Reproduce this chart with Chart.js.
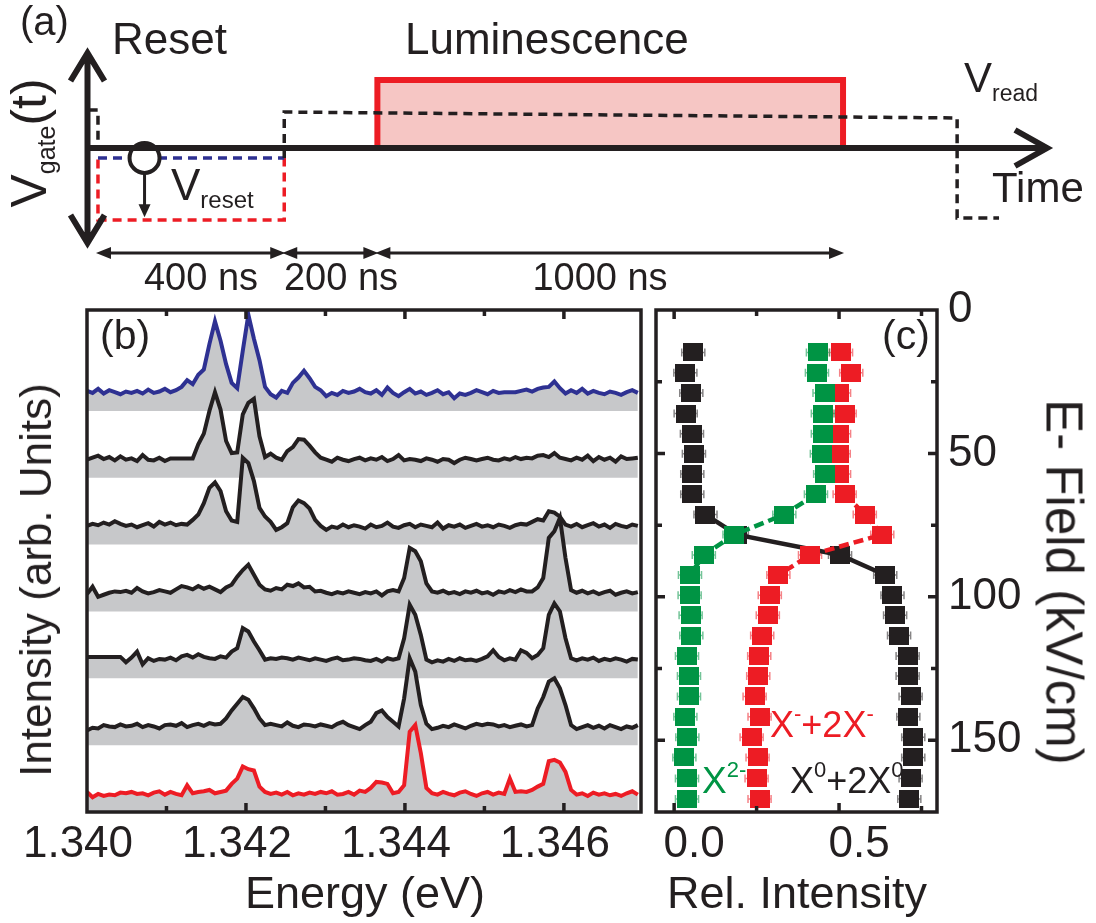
<!DOCTYPE html>
<html>
<head>
<meta charset="utf-8">
<script src="https://cdn.jsdelivr.net/npm/chart.js@4.4.1/dist/chart.umd.min.js"></script>
<style>
  body { margin: 0; background: #fff; }
  #page { position: relative; width: 1096px; height: 923px; overflow: hidden;
          font-family: "Liberation Sans", Arial, sans-serif; color: #231f20; }
  #page canvas { position: absolute; left: 0; top: 0; }
  .lbl { position: absolute; white-space: nowrap; line-height: 1; }
  .sub { display: inline-block; position: relative; line-height: 1; }
</style>
</head>
<body>
<div id="page">
  <canvas id="timing" width="1096" height="923"></canvas>
  <canvas id="spectra" width="1096" height="923"></canvas>
  <canvas id="field" width="1096" height="923"></canvas>
</div>
<script>
// ---- (a) gate sequence: time in ns, gate voltage in arb. units
const preTime = [-20, 0, 0];
const preVolt = [1.15, 1.15, 0];
const readTime = [400, 400, 1845, 1845, 1935];
const readVolt = [-0.3, 1.09, 0.91, -2.12, -2.12];
const resetHighTime = [0, 400];
const resetHighVolt = [-0.3, -0.3];
const resetLowTime = [0, 0, 400, 400];
const resetLowVolt = [-0.35, -2.18, -2.18, -0.3];
const lumTime = [600, 600, 1600, 1600];
const lumVolt = [0, 2.06, 2.06, 0];
const spanEdges = [0, 400, 600, 1600];
const spanLabels = ["400 ns", "200 ns", "1000 ns"];
const resetMarkTime = 100;
const resetArrowVolt = -2.1;

// ---- (b) PL spectra, top (blue) to bottom (red)
const energy = [
  1.34000,1.34007,1.34014,1.34021,1.34028,1.34035,1.34042,1.34049,1.34056,1.34063,
  1.34070,1.34077,1.34084,1.34091,1.34098,1.34105,1.34112,1.34119,1.34126,1.34133,
  1.34140,1.34147,1.34154,1.34161,1.34168,1.34175,1.34182,1.34189,1.34196,1.34203,
  1.34210,1.34217,1.34224,1.34231,1.34238,1.34245,1.34252,1.34259,1.34266,1.34273,
  1.34280,1.34287,1.34294,1.34301,1.34308,1.34315,1.34322,1.34329,1.34336,1.34343,
  1.34350,1.34357,1.34364,1.34371,1.34378,1.34385,1.34392,1.34399,1.34406,1.34413,
  1.34420,1.34427,1.34434,1.34441,1.34448,1.34455,1.34462,1.34469,1.34476,1.34483,
  1.34490,1.34497,1.34504,1.34511,1.34518,1.34525,1.34532,1.34539,1.34546,1.34553,
  1.34560,1.34567,1.34574,1.34581,1.34588,1.34595,1.34602,1.34609,1.34616,1.34623,
  1.34630,1.34637,1.34644,1.34651,1.34658,1.34665,1.34672,1.34679,1.34686,1.34693];
const spec1 = [
  0.30,0.27,0.33,0.26,0.31,0.28,0.25,0.29,0.27,0.30, 0.26,0.32,0.27,0.29,0.33,0.28,0.31,0.36,0.46,0.40,
  0.54,0.62,1.00,1.34,1.05,0.70,0.42,0.34,0.90,1.44, 1.08,0.76,0.36,0.25,0.20,0.30,0.27,0.42,0.50,0.60,
  0.49,0.36,0.31,0.22,0.27,0.24,0.30,0.27,0.29,0.33, 0.28,0.26,0.31,0.24,0.35,0.27,0.22,0.28,0.33,0.26,
  0.29,0.24,0.27,0.31,0.25,0.28,0.19,0.26,0.24,0.27, 0.31,0.28,0.25,0.30,0.27,0.28,0.28,0.28,0.30,0.32,
  0.29,0.33,0.35,0.36,0.44,0.34,0.26,0.31,0.27,0.33, 0.26,0.30,0.27,0.25,0.29,0.27,0.24,0.28,0.31,0.27];
const spec2 = [
  0.27,0.30,0.33,0.28,0.31,0.26,0.32,0.27,0.29,0.25, 0.34,0.27,0.26,0.30,0.25,0.29,0.29,0.29,0.29,0.29,
  0.50,0.66,1.00,1.28,1.02,0.55,0.37,0.38,0.95,1.12, 1.18,0.62,0.31,0.36,0.30,0.27,0.40,0.46,0.58,0.57,
  0.48,0.38,0.30,0.27,0.24,0.30,0.27,0.25,0.28,0.30, 0.26,0.29,0.27,0.31,0.25,0.28,0.34,0.26,0.28,0.27,
  0.25,0.29,0.27,0.24,0.28,0.27,0.22,0.27,0.30,0.28, 0.26,0.28,0.30,0.27,0.26,0.29,0.27,0.31,0.28,0.30,
  0.29,0.33,0.34,0.31,0.37,0.30,0.28,0.26,0.30,0.27, 0.33,0.25,0.31,0.27,0.30,0.24,0.32,0.28,0.29,0.30];
const spec3 = [
  0.28,0.31,0.29,0.33,0.30,0.35,0.31,0.28,0.30,0.26, 0.29,0.32,0.27,0.34,0.30,0.33,0.29,0.31,0.30,0.37,
  0.45,0.62,0.85,0.93,0.80,0.50,0.36,0.34,1.30,1.22, 0.95,0.55,0.42,0.34,0.22,0.26,0.32,0.56,0.66,0.62,
  0.54,0.37,0.28,0.22,0.27,0.25,0.30,0.26,0.29,0.27, 0.24,0.30,0.26,0.28,0.33,0.27,0.25,0.29,0.31,0.26,
  0.30,0.28,0.26,0.33,0.24,0.29,0.27,0.30,0.25,0.28, 0.31,0.27,0.29,0.26,0.30,0.28,0.25,0.29,0.31,0.30,
  0.34,0.38,0.36,0.50,0.48,0.42,0.30,0.27,0.31,0.26, 0.29,0.32,0.27,0.30,0.25,0.31,0.28,0.26,0.30,0.28];
const spec4 = [
  0.26,0.37,0.22,0.25,0.28,0.30,0.29,0.31,0.28,0.35, 0.30,0.27,0.29,0.32,0.30,0.28,0.33,0.38,0.36,0.33,
  0.38,0.34,0.37,0.33,0.29,0.36,0.40,0.52,0.62,0.70, 0.55,0.40,0.33,0.31,0.35,0.33,0.40,0.38,0.42,0.36,
  0.37,0.30,0.31,0.28,0.26,0.29,0.27,0.30,0.28,0.26, 0.29,0.27,0.30,0.24,0.30,0.32,0.30,0.50,0.95,0.90,
  0.75,0.42,0.30,0.28,0.31,0.27,0.29,0.26,0.30,0.28, 0.31,0.27,0.29,0.25,0.30,0.28,0.32,0.29,0.33,0.30,
  0.30,0.36,0.50,1.10,1.20,1.40,0.80,0.32,0.28,0.31, 0.27,0.30,0.26,0.29,0.31,0.25,0.28,0.30,0.27,0.29];
const spec5 = [
  0.32,0.32,0.32,0.32,0.32,0.32,0.32,0.24,0.31,0.40, 0.21,0.30,0.26,0.29,0.28,0.31,0.27,0.33,0.35,0.31,
  0.36,0.32,0.30,0.29,0.33,0.31,0.40,0.45,0.75,0.70, 0.55,0.42,0.28,0.30,0.29,0.31,0.30,0.28,0.31,0.29,
  0.27,0.30,0.28,0.26,0.29,0.31,0.27,0.28,0.30,0.29, 0.27,0.26,0.29,0.25,0.30,0.28,0.30,0.60,1.10,0.95,
  0.65,0.28,0.24,0.27,0.25,0.29,0.26,0.30,0.27,0.28, 0.26,0.29,0.33,0.42,0.32,0.27,0.30,0.28,0.42,0.38,
  0.30,0.35,0.45,0.95,1.12,1.00,0.60,0.30,0.27,0.30, 0.28,0.31,0.26,0.29,0.27,0.30,0.28,0.25,0.29,0.28];
const spec6 = [
  0.22,0.26,0.25,0.30,0.28,0.27,0.31,0.28,0.29,0.32, 0.27,0.30,0.28,0.25,0.30,0.31,0.29,0.33,0.27,0.30,
  0.32,0.29,0.33,0.31,0.32,0.40,0.52,0.62,0.72,0.68, 0.55,0.40,0.30,0.32,0.30,0.28,0.34,0.29,0.27,0.31,
  0.30,0.28,0.31,0.29,0.27,0.32,0.35,0.30,0.27,0.24, 0.30,0.35,0.48,0.52,0.42,0.35,0.28,0.70,1.30,1.10,
  0.60,0.32,0.24,0.26,0.29,0.27,0.31,0.28,0.25,0.29, 0.32,0.30,0.32,0.31,0.28,0.30,0.27,0.29,0.31,0.28,
  0.30,0.55,0.72,0.95,1.00,0.85,0.60,0.30,0.24,0.27, 0.30,0.26,0.29,0.25,0.30,0.27,0.24,0.28,0.26,0.30];
const spec7 = [
  0.30,0.22,0.27,0.24,0.26,0.25,0.29,0.28,0.30,0.27, 0.28,0.25,0.29,0.31,0.26,0.30,0.27,0.25,0.40,0.28,
  0.30,0.31,0.33,0.28,0.30,0.32,0.42,0.50,0.68,0.64, 0.62,0.38,0.30,0.27,0.29,0.26,0.30,0.25,0.28,0.26,
  0.29,0.27,0.30,0.28,0.31,0.26,0.27,0.30,0.26,0.32, 0.30,0.36,0.45,0.44,0.42,0.28,0.30,0.40,1.20,1.30,
  0.88,0.36,0.28,0.26,0.30,0.27,0.25,0.29,0.31,0.27, 0.24,0.28,0.30,0.26,0.29,0.27,0.50,0.30,0.31,0.30,
  0.33,0.38,0.42,0.76,0.78,0.74,0.60,0.33,0.26,0.28, 0.24,0.29,0.26,0.28,0.25,0.27,0.24,0.28,0.31,0.26];
const energyTicks = [1.340, 1.342, 1.344, 1.346];
const energyMinor = [1.341, 1.343, 1.345];

// ---- (c) relative intensities vs electric field (kV/cm)
const field = [14.8, 21.9, 28.9, 36.1, 43.1, 50.1, 57.2, 64.2, 71.3, 78.3, 85.4, 92.4,
               99.4, 106.4, 113.5, 120.6, 127.6, 134.7, 141.8, 148.9, 156.0, 163.3, 170.5];
const relNeutral = [0.058, 0.034, 0.052, 0.035, 0.054, 0.060, 0.055, 0.055, 0.095, 0.190, 0.503, 0.640,
                    0.662, 0.670, 0.682, 0.708, 0.708, 0.717, 0.710, 0.725, 0.725, 0.717, 0.713];
const relCharged = [0.506, 0.537, 0.500, 0.517, 0.500, 0.499, 0.500, 0.517, 0.578, 0.631, 0.412, 0.316,
                    0.290, 0.284, 0.267, 0.258, 0.255, 0.244, 0.259, 0.235, 0.253, 0.250, 0.259];
const relDouble = [0.436, 0.433, 0.456, 0.451, 0.451, 0.448, 0.458, 0.430, 0.334, 0.183, 0.090, 0.048,
                   0.047, 0.050, 0.052, 0.039, 0.045, 0.045, 0.034, 0.040, 0.031, 0.039, 0.039];
const relErr = 0.035;
const relTicks = [0, 0.5];
const relMinor = [0.25, 0.75];
const fieldTicks = [0, 50, 100, 150];
const fieldMinor = [25, 75, 125];

// ---- styles
const ink = "#231f20", blue = "#2e3192", red = "#ed1c24", green = "#009444";
const grayFill = "#c7c8ca", pink = "#f6c6c4";
Chart.defaults.font.family = '"Liberation Sans", Arial, sans-serif';
Chart.defaults.color = ink;

const xy = (xs, ys) => xs.map((x, i) => ({ x: x, y: ys[i] }));

// box with inward ticks, drawn from the chart's own scales
const frame = {
  id: "frame",
  afterDraw(chart, args, o) {
    const { ctx, chartArea: a, scales } = chart;
    ctx.save();
    ctx.strokeStyle = ink;
    ctx.lineWidth = o.width;
    ctx.beginPath();
    const xt = (vals, len) => vals.forEach(v => {
      const p = scales.x.getPixelForValue(v);
      ctx.moveTo(p, a.top); ctx.lineTo(p, a.top + len);
      ctx.moveTo(p, a.bottom); ctx.lineTo(p, a.bottom - len);
    });
    const yt = (vals, len) => vals.forEach(v => {
      const p = scales.y.getPixelForValue(v);
      ctx.moveTo(a.left, p); ctx.lineTo(a.left + len, p);
      ctx.moveTo(a.right, p); ctx.lineTo(a.right - len, p);
    });
    xt(o.xMajor, 9); xt(o.xMinor, 6);
    yt(o.yMajor, 9); yt(o.yMinor, 6);
    ctx.stroke();
    ctx.strokeRect(a.left, a.top, a.right - a.left, a.bottom - a.top);
    ctx.restore();
  }
};

// ---- (a)
const timingMarks = {
  id: "timingMarks",
  afterDatasetsDraw(chart) {
    const { ctx, scales: { x, y } } = chart;
    const px = t => x.getPixelForValue(t), py = v => y.getPixelForValue(v);
    const axisX = px(x.min), tipX = px(x.max), zeroY = py(0);
    const topY = py(2.88), botY = py(-2.88);
    const cx = px(resetMarkTime), cy = py(resetHighVolt[0]), r = 15;
    ctx.save();
    ctx.fillStyle = "#fff";
    ctx.beginPath(); ctx.arc(cx, cy, r, 0, 2 * Math.PI); ctx.fill();
    ctx.strokeStyle = ink; ctx.fillStyle = ink;
    ctx.lineWidth = 6;
    ctx.beginPath();
    ctx.moveTo(axisX, topY + 2); ctx.lineTo(axisX, botY - 2);
    ctx.moveTo(axisX, zeroY); ctx.lineTo(tipX - 2, zeroY);
    ctx.moveTo(axisX - 17, topY + 28); ctx.lineTo(axisX, topY); ctx.lineTo(axisX + 17, topY + 28);
    ctx.moveTo(axisX - 17, botY - 28); ctx.lineTo(axisX, botY); ctx.lineTo(axisX + 17, botY - 28);
    ctx.moveTo(tipX - 32, zeroY - 18); ctx.lineTo(tipX, zeroY); ctx.lineTo(tipX - 32, zeroY + 18);
    ctx.stroke();
    // reset marker and arrow
    ctx.lineWidth = 4;
    ctx.beginPath(); ctx.arc(cx, cy, r, 0, 2 * Math.PI); ctx.stroke();
    const ay = py(resetArrowVolt);
    ctx.lineWidth = 3;
    ctx.beginPath(); ctx.moveTo(cx, cy + r); ctx.lineTo(cx, ay - 10); ctx.stroke();
    ctx.beginPath(); ctx.moveTo(cx - 6, ay - 13); ctx.lineTo(cx + 6, ay - 13); ctx.lineTo(cx, ay); ctx.closePath(); ctx.fill();
    // duration arrows
    const dy = py(-3.18);
    for (let k = 0; k < spanEdges.length - 1; k++) {
      const a = px(spanEdges[k]) - 2, b = px(spanEdges[k + 1]) + 1;
      ctx.beginPath(); ctx.moveTo(a + 8, dy); ctx.lineTo(b - 8, dy); ctx.stroke();
      ctx.beginPath();
      ctx.moveTo(a, dy); ctx.lineTo(a + 15, dy - 6); ctx.lineTo(a + 15, dy + 6); ctx.closePath();
      ctx.moveTo(b, dy); ctx.lineTo(b - 15, dy - 6); ctx.lineTo(b - 15, dy + 6); ctx.closePath();
      ctx.fill();
    }
    ctx.restore();
  }
};

new Chart(document.getElementById("timing"), {
  type: "line",
  data: {
    datasets: [
      { data: xy(preTime, preVolt), borderColor: ink, borderDash: [9, 6], order: 0 },
      { data: xy(readTime, readVolt), borderColor: ink, borderDash: [9, 6], order: 0 },
      { data: xy(resetHighTime, resetHighVolt), borderColor: blue, borderDash: [9, 6], order: 1 },
      { data: xy(resetLowTime, resetLowVolt), borderColor: red, borderDash: [9, 6], order: 1 },
      { data: xy(lumTime, lumVolt), borderColor: red, borderWidth: 6, fill: "origin",
        backgroundColor: pink, borderDash: [], order: 5 }
    ]
  },
  options: {
    responsive: false, animation: false, events: [],
    layout: { padding: { left: 87.5, right: 49, top: 49, bottom: 923 - 263.5 } },
    elements: { point: { radius: 0 }, line: { borderWidth: 3.5, tension: 0 } },
    scales: {
      x: { type: "linear", display: false, min: -22.5, max: 2038 },
      y: { display: false, min: -3.5, max: 3 }
    },
    plugins: { legend: { display: false }, tooltip: { enabled: false } }
  },
  plugins: [timingMarks]
});

// ---- (b)
const spectra = [spec1, spec2, spec3, spec4, spec5, spec6, spec7];
const traceColors = [blue, ink, ink, ink, ink, ink, red];
const traceGap = 1;
new Chart(document.getElementById("spectra"), {
  type: "line",
  data: {
    datasets: spectra.map((s, j) => {
      const base = (spectra.length - 1 - j) * traceGap;
      return {
        data: energy.map((e, i) => ({ x: e, y: base + s[i] })),
        borderColor: traceColors[j], backgroundColor: grayFill,
        fill: { value: base }, order: spectra.length - 1 - j
      };
    })
  },
  options: {
    responsive: false, animation: false, events: [],
    layout: { padding: { left: 87, right: 455, top: 310, bottom: 0 } },
    elements: { point: { radius: 0 }, line: { borderWidth: 4, tension: 0 } },
    scales: {
      x: {
        type: "linear", min: 1.340, max: 1.34697,
        grid: { display: false, drawTicks: false }, border: { display: false },
        afterBuildTicks: s => { s.ticks = energyTicks.map(v => ({ value: v })); },
        afterFit: s => { s.height = 111; },
        ticks: { callback: v => v.toFixed(3), labelOffset: -9, padding: 6, maxRotation: 0,
                 autoSkip: false, font: { size: 44 }, color: ink }
      },
      y: { display: false, min: 0, max: 7.51 }
    },
    plugins: {
      legend: { display: false }, tooltip: { enabled: false },
      frame: { width: 3.5, xMajor: energyTicks.slice(1), xMinor: energyMinor, yMajor: [], yMinor: [] }
    }
  },
  plugins: [frame]
});

// ---- (c)
function squareMarker(color) {
  const c = document.createElement("canvas");
  c.width = 20; c.height = 18;
  const g = c.getContext("2d");
  g.fillStyle = color;
  g.fillRect(0, 0, 20, 18);
  return c;
}
const errorBars = {
  id: "errorBars",
  beforeDatasetsDraw(chart) {
    const { ctx, scales: { x, y } } = chart;
    ctx.save();
    ctx.lineWidth = 1.5;
    chart.data.datasets.slice().reverse().forEach(ds => {
      ctx.strokeStyle = ds.errColor;
      ctx.beginPath();
      ds.data.forEach(p => {
        const yp = y.getPixelForValue(p.y);
        const xl = x.getPixelForValue(p.x - p.err), xr = x.getPixelForValue(p.x + p.err);
        ctx.moveTo(xl, yp); ctx.lineTo(xr, yp);
        ctx.moveTo(xl, yp - 4); ctx.lineTo(xl, yp + 4);
        ctx.moveTo(xr, yp - 4); ctx.lineTo(xr, yp + 4);
      });
      ctx.stroke();
    });
    ctx.restore();
  }
};
const withErr = vals => vals.map((v, i) => ({ x: v, y: field[i], err: relErr }));
const linkSeg = (from, to, color) => c =>
  (c.p0DataIndex >= from && c.p1DataIndex <= to) ? color : "rgba(0,0,0,0)";

new Chart(document.getElementById("field"), {
  type: "line",
  data: {
    datasets: [
      { data: withErr(relDouble), borderColor: green, pointStyle: squareMarker(green),
        errColor: "rgba(0,148,68,0.55)", borderDash: [10, 5], order: 0,
        segment: { borderColor: linkSeg(7, 11, green) } },
      { data: withErr(relCharged), borderColor: red, pointStyle: squareMarker(red),
        errColor: "rgba(237,28,36,0.55)", borderDash: [10, 5], order: 1,
        segment: { borderColor: linkSeg(7, 11, red) } },
      { data: withErr(relNeutral), borderColor: ink, pointStyle: squareMarker(ink),
        errColor: "rgba(35,31,32,0.55)", order: 2,
        segment: { borderColor: linkSeg(8, 11, ink) } }
    ]
  },
  options: {
    responsive: false, animation: false, events: [],
    layout: { padding: { left: 656, right: 0, top: 310, bottom: 0 } },
    elements: { point: { radius: 10 }, line: { borderWidth: 4.5, tension: 0 } },
    scales: {
      x: {
        type: "linear", min: -0.055, max: 0.797,
        grid: { display: false, drawTicks: false }, border: { display: false },
        afterBuildTicks: s => { s.ticks = relTicks.map(v => ({ value: v })); },
        afterFit: s => { s.height = 111; },
        ticks: { callback: v => v.toFixed(1), labelOffset: 20, padding: 6, maxRotation: 0,
                 autoSkip: false, font: { size: 44 }, color: ink }
      },
      y: {
        type: "linear", position: "right", reverse: true, min: 0, max: 175,
        grid: { display: false, drawTicks: false }, border: { display: false },
        afterBuildTicks: s => { s.ticks = fieldTicks.map(v => ({ value: v })); },
        afterFit: s => { s.width = 159; },
        ticks: { callback: v => String(v), padding: 11, font: { size: 44 }, color: ink }
      }
    },
    plugins: {
      legend: { display: false }, tooltip: { enabled: false },
      frame: { width: 3.5, xMajor: relTicks, xMinor: relMinor, yMajor: fieldTicks.slice(1), yMinor: fieldMinor }
    }
  },
  plugins: [errorBars, frame]
});

// ---- text
const page = document.getElementById("page");
function addText(html, x, baseline, size, opts) {
  opts = opts || {};
  const d = document.createElement("div");
  d.className = "lbl";
  d.innerHTML = html;
  d.style.fontSize = size + "px";
  d.style.left = x + "px";
  d.style.top = (baseline - 0.8465 * size) + "px";
  if (opts.center) d.style.transform = "translateX(-50%)";
  if (opts.color) d.style.color = opts.color;
  page.appendChild(d);
}
function addRotated(html, cx, cy, size, deg) {
  const d = document.createElement("div");
  d.className = "lbl";
  d.innerHTML = html;
  d.style.fontSize = size + "px";
  d.style.height = size + "px";
  d.style.left = cx + "px";
  d.style.top = cy + "px";
  d.style.transform = "translate(-50%, -50%) rotate(" + deg + "deg)";
  page.appendChild(d);
}
const sub = (t, size, shift) => '<span class="sub" style="font-size:' + size + 'px;top:' + shift + 'px">' + t + '</span>';

addText("(a)", 20, 35, 40);
addText("Reset", 112, 54, 44);
addText("Luminescence", 405, 54, 44);
addRotated("V" + sub("gate", 25, 9) + "(t)", 29, 143, 50, -90);
addText("V" + sub("reset", 24, 8), 171, 200, 44);
addText("V" + sub("read", 23, 9), 964, 93, 42);
addText("Time", 992, 203, 42);
[201, 341, 600].forEach((cx, k) => addText(spanLabels[k], cx, 290, 38, { center: true }));

addText("(b)", 100, 350, 41);
addText("(c)", 882, 350, 41);
addRotated("Intensity (arb. Units)", 36, 580, 44, -90);
addText("Energy (eV)", 365, 908, 45, { center: true });
addText("Rel. Intensity", 797, 908, 45, { center: true });
addRotated("E- Field (kV/cm)", 1064, 582, 51, 90);
addText("X" + sub("-", 22, -16) + "+2X" + sub("-", 22, -16), 770, 737, 36, { color: red });
addText("X" + sub("2-", 22, -16), 702, 793, 37, { color: green });
addText("X" + sub("0", 22, -16) + "+2X" + sub("0", 22, -16), 790, 793, 36);
</script>
</body>
</html>
